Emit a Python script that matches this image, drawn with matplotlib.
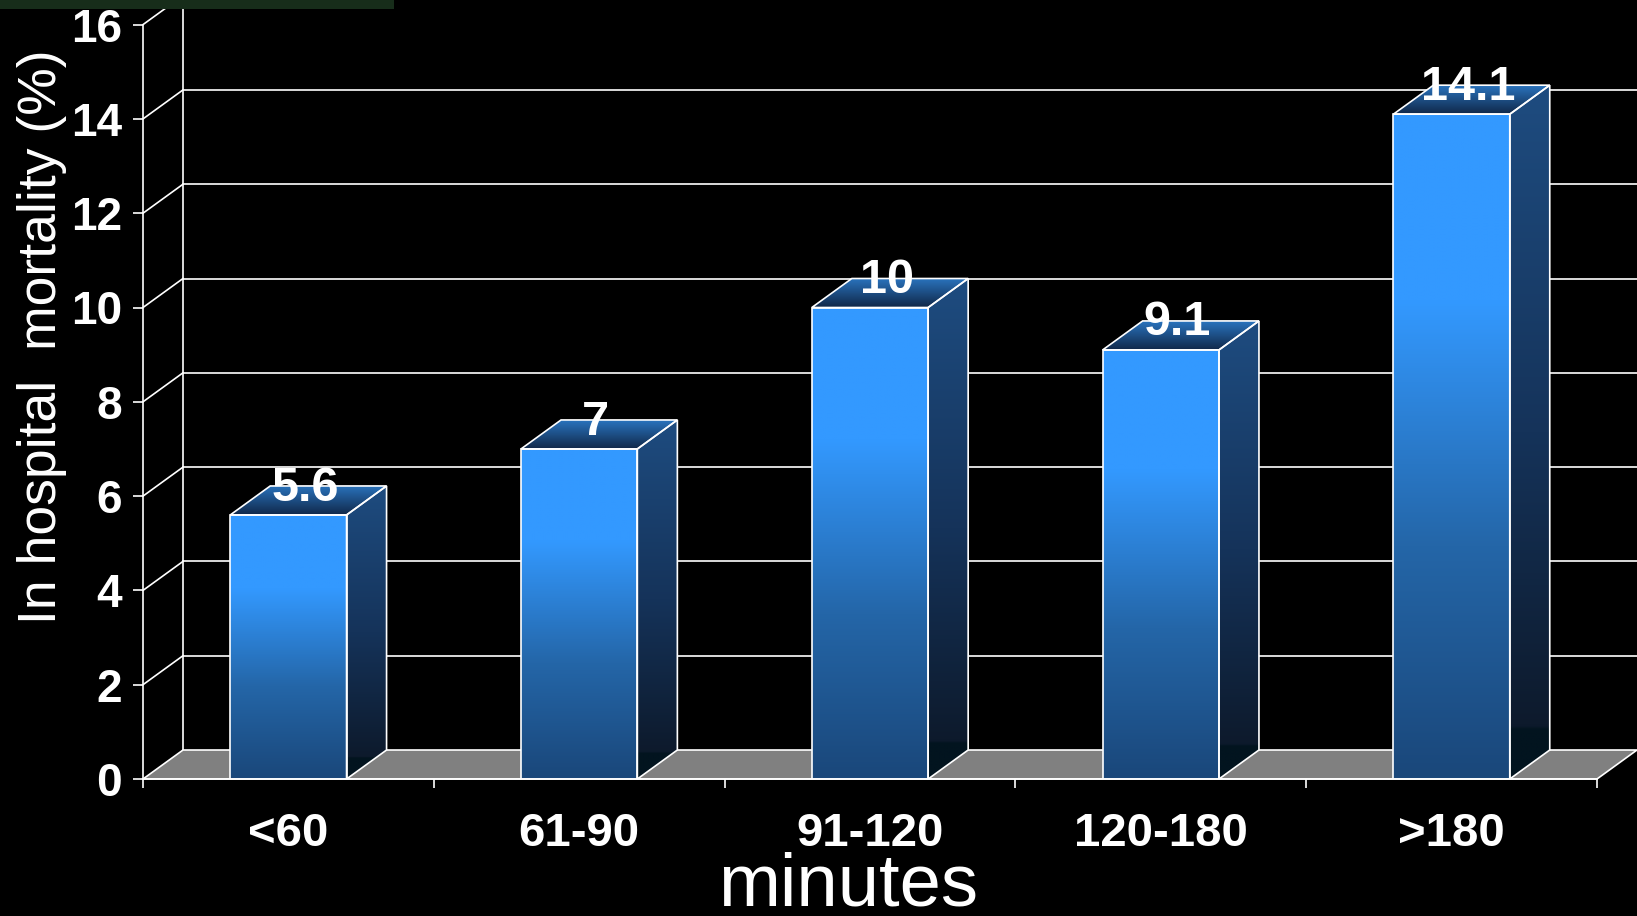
import numpy as np
import matplotlib
matplotlib.use("Agg")
import matplotlib.pyplot as plt
from matplotlib.patches import Polygon, Rectangle
from matplotlib.colors import LinearSegmentedColormap

# --- data -------------------------------------------------------------
categories = ["<60", "61-90", "91-120", "120-180", ">180"]
mortality = [5.6, 7, 10, 9.1, 14.1]
value_labels = ["5.6", "7", "10", "9.1", "14.1"]
y_ticks = [0, 2, 4, 6, 8, 10, 12, 14, 16]

# --- figure / axes geometry (pixels) ------------------------------------
W, H, DPI = 1637, 916, 100
AX_L, AX_R, AX_TOP, AX_BOT = 143, 1597, 24.6, 779
DEPTH_PX = (40, 29)          # oblique depth of the 3-D box
BAR_W = 0.40

plt.rcParams["font.family"] = ["Liberation Sans", "DejaVu Sans"]
fig = plt.figure(figsize=(W / DPI, H / DPI), dpi=DPI, facecolor="black")
ax = fig.add_axes([AX_L / W, (H - AX_BOT) / H, (AX_R - AX_L) / W, (AX_BOT - AX_TOP) / H])
ax.set_facecolor("none")

n = len(categories)
xmin, xmax, ymin, ymax = -0.5, n - 0.5, 0, 16
DX = DEPTH_PX[0] / ((AX_R - AX_L) / (xmax - xmin))
DY = DEPTH_PX[1] / ((AX_BOT - AX_TOP) / (ymax - ymin))

LINE = "white"
LW = 1.2

# back wall grid, left wall diagonals
for y in y_ticks[1:]:
    ax.plot([xmin + DX, xmax + DX], [y + DY, y + DY], color=LINE, lw=LW, zorder=1, clip_on=False)
    ax.plot([xmin, xmin + DX], [y, y + DY], color=LINE, lw=LW, zorder=1, clip_on=False)
ax.plot([xmin + DX, xmin + DX], [DY, ymax + DY], color=LINE, lw=LW, zorder=1, clip_on=False)

# floor
floor = Polygon([(xmin, 0), (xmax, 0), (xmax + DX, DY), (xmin + DX, DY)], closed=True,
                facecolor="#808080", edgecolor=LINE, lw=LW, zorder=2, clip_on=False)
ax.add_patch(floor)

front_cmap = LinearSegmentedColormap.from_list(
    "front", [(0, "#1A477A"), (0.35, "#2466A8"), (0.72, "#3399FF"), (1, "#3399FF")])
side_cmap = LinearSegmentedColormap.from_list(
    "side", [(0, "#02141F"), (0.07, "#02141F"), (0.075, "#0D1A2C"), (0.5, "#15335A"), (1, "#1E4C80")])
top_cmap = LinearSegmentedColormap.from_list("top", [(0, "#10284A"), (1, "#2A74BE")])
ramp = np.linspace(0, 1, 256).reshape(-1, 1)

for i, v in enumerate(mortality):
    x0, x1 = i - BAR_W / 2, i + BAR_W / 2
    # side face
    side_pts = [(x1, 0), (x1 + DX, DY), (x1 + DX, v + DY), (x1, v)]
    side = Polygon(side_pts, closed=True, transform=ax.transData, facecolor="none")
    im = ax.imshow(ramp, extent=[x1, x1 + DX, 0, v + DY], origin="lower", aspect="auto",
                   cmap=side_cmap, interpolation="bilinear", zorder=3)
    im.set_clip_path(side)
    # top face
    top_pts = [(x0, v), (x1, v), (x1 + DX, v + DY), (x0 + DX, v + DY)]
    top = Polygon(top_pts, closed=True, transform=ax.transData, facecolor="none")
    im = ax.imshow(ramp, extent=[x0, x1 + DX, v, v + DY], origin="lower", aspect="auto",
                   cmap=top_cmap, interpolation="bilinear", zorder=3)
    im.set_clip_path(top)
    # front face
    ax.imshow(ramp, extent=[x0, x1, 0, v], origin="lower", aspect="auto",
              cmap=front_cmap, interpolation="bilinear", zorder=3)
    # outlines
    for pts in (side_pts, top_pts, [(x0, 0), (x1, 0), (x1, v), (x0, v)]):
        ax.add_patch(Polygon(pts, closed=True, facecolor="none", edgecolor=LINE, lw=LW, zorder=4))
    # value label
    ax.annotate(value_labels[i], xy=(i + DX / 2, v), xytext=(-2.5, 10.4), textcoords="offset points",
                ha="center", va="baseline", color="white", fontsize=35, fontweight="bold", zorder=5)

ax.set_xlim(xmin, xmax)
ax.set_ylim(ymin, ymax)

# axes, ticks
for s in ("top", "right"):
    ax.spines[s].set_visible(False)
for s in ("left", "bottom"):
    ax.spines[s].set_color(LINE)
    ax.spines[s].set_linewidth(LW)
    ax.spines[s].set_zorder(4)

ax.set_yticks(y_ticks)
ax.set_yticklabels([str(t) for t in y_ticks])
ax.tick_params(axis="y", colors="white", direction="out", length=7.2, width=LW, pad=8.0,
               labelsize=33)
for lbl in ax.get_yticklabels():
    lbl.set_fontweight("bold")

ax.set_xticks(np.arange(xmin, xmax + 0.01, 1.0))
ax.set_xticklabels([])
ax.set_xticks(np.arange(n), minor=True)
ax.set_xticklabels(categories, minor=True)
ax.tick_params(axis="x", which="major", colors="white", direction="out", length=6.5, width=LW)
ax.tick_params(axis="x", which="minor", length=0, pad=24, labelsize=34, labelcolor="white")
for lbl in ax.get_xticklabels(minor=True):
    lbl.set_fontweight("bold")

fig.text(42 / W, 1 - 337 / H, "In hospital  mortality (%)", rotation=90, ha="center", va="center",
         color="white", fontsize=38.5)
fig.text(848.5 / W, (H - 906) / H, "minutes", ha="center", va="baseline", color="white", fontsize=53.5)

# dark green strip along the top-left edge
fig.patches.append(Rectangle((0, 1 - 9 / H), 394 / W, 9 / H, transform=fig.transFigure,
                             facecolor="#172d1a", edgecolor="none", zorder=0))

fig.savefig("out.png", dpi=DPI, facecolor="black")
